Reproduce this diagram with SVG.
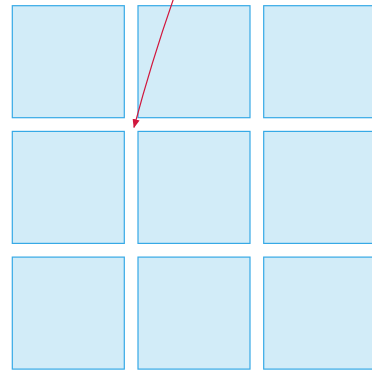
<svg xmlns="http://www.w3.org/2000/svg" width="372" height="375" viewBox="0 0 372 375">
<defs>
<style>
.box{fill:#d2ecf8;stroke:#36a9e6;stroke-width:1.2}
.edge{fill:none;stroke:#d1173d;stroke-width:1.2}
</style>
<marker id="ah" viewBox="0 0 10 10" refX="9" refY="5" markerWidth="9" markerHeight="9" markerUnits="userSpaceOnUse" orient="auto">
<path d="M0,1 L10,5 L0,9 Z" fill="#d1173d"/>
</marker>
</defs>
<g id="n1"><rect class="box" x="12.3" y="5.7" width="112" height="112"/></g>
<g id="n2"><rect class="box" x="138" y="5.7" width="112" height="112"/></g>
<g id="n3"><rect class="box" x="263.7" y="5.7" width="112" height="112"/></g>
<g id="n4"><rect class="box" x="12.3" y="131.4" width="112" height="112"/></g>
<g id="n5"><rect class="box" x="138" y="131.4" width="112" height="112"/></g>
<g id="n6"><rect class="box" x="263.7" y="131.4" width="112" height="112"/></g>
<g id="n7"><rect class="box" x="12.3" y="257.1" width="112" height="112"/></g>
<g id="n8"><rect class="box" x="138" y="257.1" width="112" height="112"/></g>
<g id="n9"><rect class="box" x="263.7" y="257.1" width="112" height="112"/></g>
<g id="edges">
<path class="edge" d="M174.5,-4 Q152,60 134,127.3" marker-end="url(#ah)"/>
</g>
</svg>
